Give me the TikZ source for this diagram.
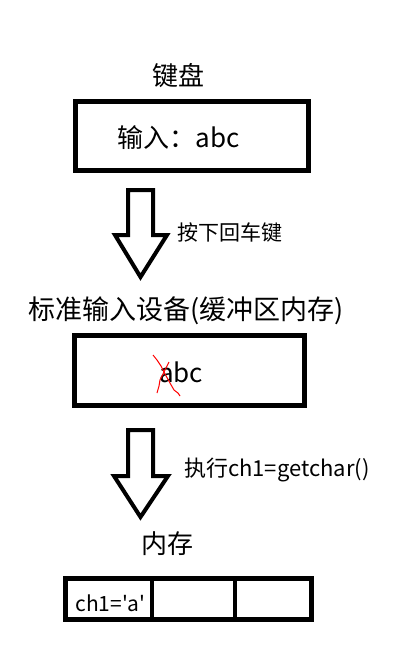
\documentclass[tikz,border=0pt]{standalone}
\usepackage{fontspec}
\setmainfont{Noto Sans CJK SC}
\begin{document}
\begin{tikzpicture}[x=1pt,y=-1pt,
  box/.style={draw=black,line width=5pt},
  blockarrow/.style={draw=black,line width=4pt,line join=miter,fill=white},
  big/.style={font=\fontsize{26}{30}\selectfont,inner sep=0pt},
  small/.style={font=\fontsize{21}{24}\selectfont,inner sep=0pt},
  cross/.style={draw=red,line width=1pt}]
\useasboundingbox[fill=white] (0,0) rectangle (407,656);
% keyboard
\node[big] (kbd) at (178,76) {键盘};
\draw[box] (75.5,101.5) rectangle (308.5,170.5);
\node[big] (input) at (178.5,138) {输入：abc};
% arrow 1
\draw[blockarrow] (128,190) -- (153,190) -- (153,235) -- (167,235) -- (140.5,277)
  -- (115,235) -- (128,235) -- cycle;
\node[small,anchor=west] (enter) at (177,233) {按下回车键};
% standard input device
\node[big,font=\fontsize{27}{30}\selectfont] (stdin) at (186.5,311) {标准输入设备(缓冲区内存)};
\draw[box] (74.5,335.5) rectangle (304.5,405.5);
\node[big] (buf) at (181,372) {abc};
\draw[cross] (153,355) -- (157,360) -- (161,366) -- (165,374) -- (170,383) -- (174,390) -- (178,393) -- (180,396);
\draw[cross] (169,362) -- (166,368) -- (163,374) -- (160,380) -- (159,386) -- (157,393);
% arrow 2
\draw[blockarrow] (128,430) -- (153,430) -- (153,476) -- (168,476) -- (140.5,517)
  -- (114,476) -- (128,476) -- cycle;
\node[small,anchor=west,font=\fontsize{22}{24}\selectfont] (exec) at (184,470) {执行ch1=getchar()};
% memory
\node[big] (mem) at (167,544) {内存};
\draw[box] (65.5,578.5) rectangle (311.5,619.5);
\draw[line width=4pt] (152,578.5) -- (152,619.5);
\draw[line width=4pt] (235,578.5) -- (235,619.5);
\node[small] (ch) at (110.5,603) {ch1=\textquotesingle a\textquotesingle};
\end{tikzpicture}
\end{document}
